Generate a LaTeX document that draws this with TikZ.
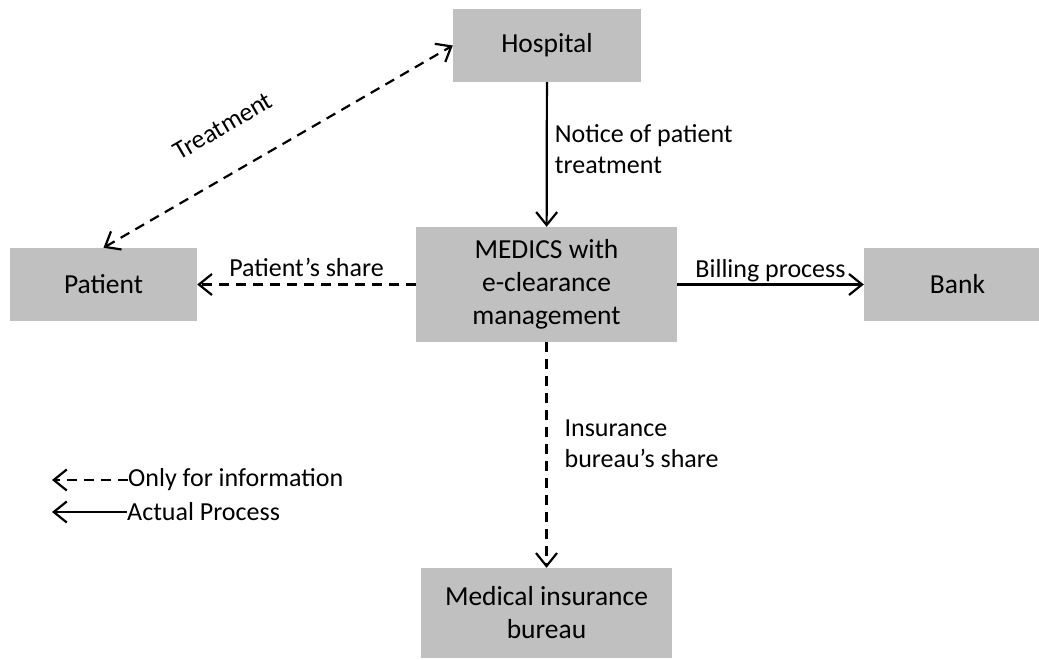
\documentclass[tikz,border=0pt]{standalone}
\usepackage{fontspec}
\setmainfont{Carlito}
\usetikzlibrary{arrows.meta}

\definecolor{boxgray}{RGB}{192,192,192}

\tikzset{
  block/.style={fill=boxgray, align=center, inner sep=0pt,
    font=\fontsize{27.5}{33}\selectfont},
  lbl/.style={inner sep=1pt, align=left,
    font=\fontsize{26}{31}\selectfont},
  barb/.style={Straight Barb[length=13pt,width=21pt,line width=2.2pt]},
  flow/.style={line width=2.2pt, -{Straight Barb[length=13pt,width=21pt,line width=2.2pt]}},
  info/.style={flow, dash pattern=on 10pt off 7pt}
}

\begin{document}
\begin{tikzpicture}[x=1pt, y=1pt]

  \clip (0,0) rectangle (1039,659);

  % Boxes
  \node[block, minimum width=188pt, minimum height=73pt]  (hosp)    at (547, 613.5)   {Hospital};
  \node[block, minimum width=261pt, minimum height=115pt] (medics)  at (546.5, 374.5) {MEDICS with\\e-clearance\\management};
  \node[block, minimum width=187pt, minimum height=73pt]  (patient) at (103.5, 374.5) {Patient};
  \node[block, minimum width=187pt, minimum height=73pt]  (bank)    at (957.5, 374.5) {Bank};
  \node[block, minimum width=251pt, minimum height=90pt]  (bureau)  at (546.5, 46)    {Medical insurance\\bureau};

  % Connectors
  \draw[flow] (hosp) -- node[lbl, right, pos=0.46, xshift=6pt] {Notice of patient\\treatment} (medics);
  \draw[info] (medics) -- node[lbl, above, text depth=6pt] {Patient’s share} (patient);
  \draw[flow] (medics) -- node[lbl, above] {Billing process} (bank);
  \draw[info] (medics) -- node[lbl, right, pos=0.45, xshift=16pt] {Insurance\\bureau’s share} (bureau);
  \draw[info, {Straight Barb[length=13pt,width=21pt,line width=2.2pt]}-{Straight Barb[length=13pt,width=21pt,line width=2.2pt]}] (patient.north) -- (hosp.west);
  \node[lbl, rotate=30.1] (treat) at (223, 533) {Treatment};

  % Legend
  \node[lbl, anchor=west, inner sep=0pt] (infolbl) at (128, 179) {Only for information};
  \node[lbl, anchor=west, inner sep=0pt] (actlbl)  at (127, 147) {Actual Process};
  \coordinate (infoend) at (52, 179);
  \coordinate (actend)  at (52, 147);
  \draw[info] (infolbl.west) -- (infoend);
  \draw[flow] (actlbl.west) -- (actend);

\end{tikzpicture}
\end{document}
